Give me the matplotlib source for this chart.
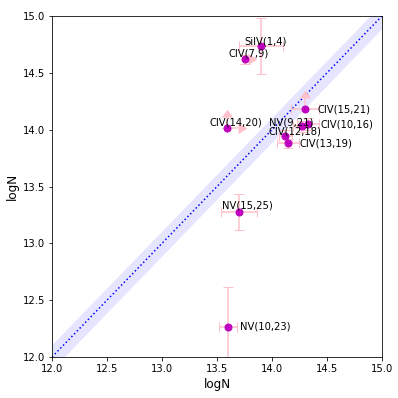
import matplotlib
matplotlib.use("Agg")
import matplotlib.pyplot as plt
import numpy as np

# column densities
names = ["SiIV(1,4)", "CIV(7,9)", "CIV(14,20)", "CIV(15,21)", "NV(9,21)",
         "CIV(10,16)", "CIV(12,18)", "CIV(13,19)", "NV(15,25)", "NV(10,23)"]
logn_x = [13.90, 13.755, 13.59, 14.30, 14.27, 14.33, 14.12, 14.145, 13.70, 13.60]
logn_y = [14.736, 14.62, 14.015, 14.18, 14.03, 14.05, 13.94, 13.88, 13.275, 12.264]
err_x = [0.20, 0.03, 0.10, 0.13, 0.08, 0.10, 0.06, 0.10, 0.16, 0.08]
err_y = [0.25, 0.04, 0.10, 0.10, 0.05, 0.05, 0.06, 0.04, 0.16, 0.35]
xlo = [False, True, True, False, False, False, False, False, False, False]
ylo = [False, False, True, True, False, False, False, False, False, False]
# label offsets in points (dx, dy)
lab_dx = [-16.5, -16.5, -17, 12, -33, 12, -17, 12, -17, 12]
lab_dy = [5, 6, 5, 0, 4, -1, 5, 0, 7, 0]

fig = plt.figure(figsize=(398/72, 398/72), dpi=72)
ax = fig.add_axes([52/398, 41/398, 330/398, 341/398])

line = np.array([12, 15])
ax.fill_between(line, line - 0.11, line + 0.11, color='blue', alpha=0.1, lw=0)
ax.plot(line, line, 'b:', lw=1.5)

for i in range(len(names)):
    ax.errorbar(logn_x[i], logn_y[i], xerr=err_x[i], yerr=err_y[i],
                xlolims=xlo[i], lolims=ylo[i], fmt='none',
                color='pink', ecolor='pink', capsize=5, zorder=2)
ax.plot(logn_x, logn_y, 'o', color='m', ms=7, zorder=3)

for i in range(len(names)):
    ax.annotate(names[i], (logn_x[i], logn_y[i]), xytext=(lab_dx[i], lab_dy[i]),
                textcoords='offset points', va='center', ha='left', fontsize=10,
                zorder=4)

ax.set_xlim(12, 15)
ax.set_ylim(12, 15)
ax.set_xlabel("logN", fontsize=12)
ax.set_ylabel("logN", fontsize=12)

fig.savefig("out.png", dpi=72)
